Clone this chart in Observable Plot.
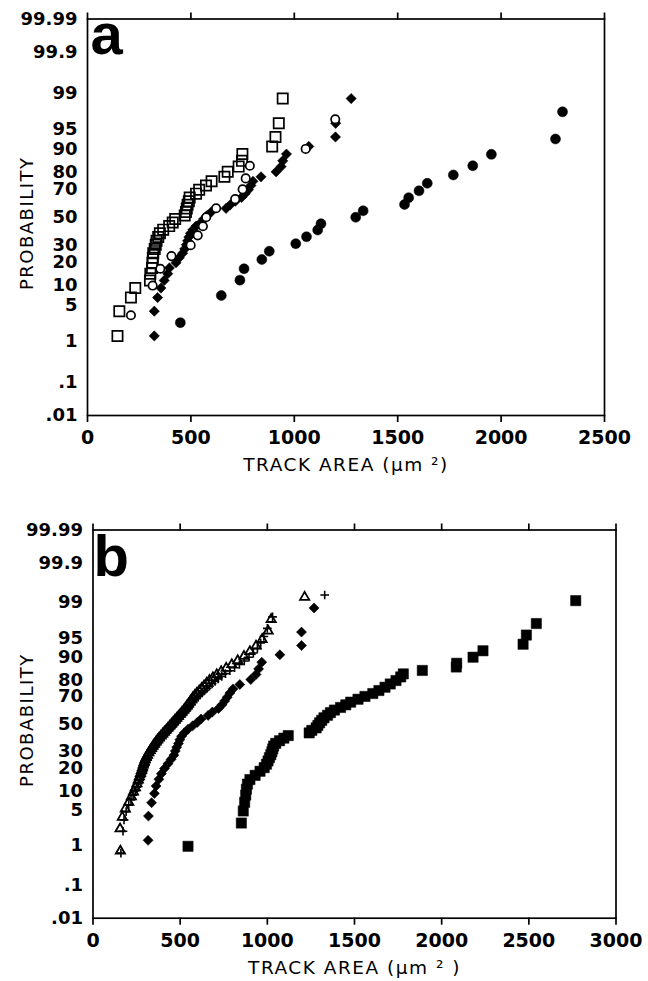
<!DOCTYPE html>
<html>
<head>
<meta charset="utf-8">
<script src="https://cdn.jsdelivr.net/npm/d3@7"></script>
<script src="https://cdn.jsdelivr.net/npm/@observablehq/plot@0.6"></script>
<style>
  html, body { margin: 0; padding: 0; background: #fff; }
  #wrap { width: 648px; height: 981px; overflow: hidden; }
  #wrap svg { display: block; }
</style>
</head>
<body>
<div id="wrap"></div>
<script>
// ---------- tick labels ----------
const yTickValues = [0.01, 0.1, 1, 5, 10, 20, 30, 50, 70, 80, 90, 95, 99, 99.9, 99.99];
const yTickLabels = [".01", ".1", "1", "5", "10", "20", "30", "50", "70", "80", "90", "95", "99", "99.9", "99.99"];
const xTicksA = [0, 500, 1000, 1500, 2000, 2500];
const xTicksB = [0, 500, 1000, 1500, 2000, 2500, 3000];

// ---------- panel a ----------
// open squares
const aSquareX = [145,154,210,231,302,304,312,314,316,318,325,330,334,342,350,366,395,412,424,470,476,480,484,490,494,525,540,573,600,662,678,731,747,749,893,909,925,944];
const aSquareP = [1.3,3.9,6.6,9.2,11.8,14.5,17.1,19.7,22.4,25,27.6,30.3,32.9,35.5,38.2,40.8,43.4,46.1,48.7,51.3,53.9,56.6,59.2,61.8,64.5,67.1,69.7,72.4,75,77.6,80.3,82.9,85.5,88.2,90.8,93.4,96.1,98.7];
// open circles
const aCircleX = [210,315,352,406,499,533,558,574,622,714,750,765,785,1055,1198];
const aCircleP = [3.3,10,16.7,23.3,30,36.7,43.3,50,56.7,63.3,70,76.7,83.3,90,96.7];
// filled diamonds
const aDiamondX = [323,323,339,355,371,388,396,428,444,460,470,478,484,490,498,510,525,549,562,578,598,670,690,715,745,762,778,790,800,839,912,936,944,962,1070,1199,1200,1275];
const aDiamondP = [1.3,3.9,6.6,9.2,11.8,14.5,17.1,19.7,22.4,25,27.6,30.3,32.9,35.5,38.2,40.8,43.4,46.1,48.7,51.3,53.9,56.6,59.2,61.8,64.5,67.1,69.7,72.4,75,77.6,80.3,82.9,85.5,88.2,90.8,93.4,96.1,98.7];
// filled circles
const aDotX = [449,647,737,757,843,879,1007,1059,1113,1129,1297,1333,1533,1553,1603,1643,1769,1863,1953,2263,2297];
const aDotP = [2.4,7.1,11.9,16.7,21.4,26.2,31,35.7,40.5,45.2,50,54.8,59.5,64.3,69,73.8,78.6,83.3,88.1,92.9,97.6];

// ---------- panel b ----------
// open triangles
const bTriX = [157,155,168,185,205,220,232,243,252,260,266,272,278,283,288,293,298,305,312,320,328,336,344,352,361,370,380,390,400,410,420,430,440,450,460,470,480,490,500,510,520,529,538,547,556,564,573,584,596,609,623,637,652,668,688,710,735,764,796,830,866,900,935,970,1005,1022,1214];
const bTriP = [0.75,2.24,3.73,5.22,6.72,8.21,9.7,11.19,12.69,14.18,15.67,17.16,18.66,20.15,21.64,23.13,24.63,26.12,27.61,29.1,30.6,32.09,33.58,35.07,36.57,38.06,39.55,41.04,42.54,44.03,45.52,47.01,48.51,50,51.49,52.99,54.48,55.97,57.46,58.96,60.45,61.94,63.43,64.93,66.42,67.91,69.4,70.9,72.39,73.88,75.37,76.87,78.36,79.85,81.34,82.84,84.33,85.82,87.31,88.81,90.3,91.79,93.28,94.78,96.27,97.76,99.25];
// plus signs
const bPlusX = [160,172,178,190,205,218,230,242,252,260,268,275,281,287,292,297,302,307,313,319,325,332,339,346,354,362,370,379,388,397,406,415,424,433,442,451,460,469,478,487,496,505,514,522,531,540,548,556,565,574,583,593,604,615,627,640,654,668,683,700,718,738,760,785,812,840,868,895,920,943,962,980,1000,1030,1329];
const bPlusP = [0.67,2,3.33,4.67,6,7.33,8.67,10,11.33,12.67,14,15.33,16.67,18,19.33,20.67,22,23.33,24.67,26,27.33,28.67,30,31.33,32.67,34,35.33,36.67,38,39.33,40.67,42,43.33,44.67,46,47.33,48.67,50,51.33,52.67,54,55.33,56.67,58,59.33,60.67,62,63.33,64.67,66,67.33,68.67,70,71.33,72.67,74,75.33,76.67,78,79.33,80.67,82,83.33,84.67,86,87.33,88.67,90,91.33,92.67,94,95.33,96.67,98,99.33];
// filled diamonds
const bDiamondX = [316,318,336,352,362,378,392,410,430,448,464,472,480,490,498,508,524,545,572,598,620,660,685,720,740,755,770,785,803,842,905,935,950,968,1072,1196,1196,1268];
const bDiamondP = [1.3,3.9,6.6,9.2,11.8,14.5,17.1,19.7,22.4,25,27.6,30.3,32.9,35.5,38.2,40.8,43.4,46.1,48.7,51.3,53.9,56.6,59.2,61.8,64.5,67.1,69.7,72.4,75,77.6,80.3,82.9,85.5,88.2,90.8,93.4,96.1,98.7];
// filled squares
const bSquareX = [545,851,862,870,876,880,886,900,930,958,982,995,1004,1012,1020,1026,1031,1036,1048,1070,1095,1120,1240,1255,1280,1290,1300,1312,1325,1345,1362,1385,1420,1450,1478,1520,1560,1605,1640,1675,1705,1738,1765,1780,1889,2084,2086,2180,2237,2467,2486,2543,2769];
const bSquareP = [0.96,2.9,4.8,6.7,8.7,10.6,12.5,14.4,16.3,18.3,20.2,22.1,24,26,27.9,29.8,31.7,33.7,35.6,37.5,39.4,41.3,43.3,45.2,47.1,49,51,52.9,54.8,56.7,58.7,60.6,62.5,64.4,66.3,68.3,70.2,72.1,74,76,77.9,79.8,81.7,83.2,84.8,86.3,87.8,90,92,93.7,95.6,97.3,99.1];

// ---------- normal probability (probit) transform ----------
function probit(p) {
  const a = [-3.969683028665376e+01, 2.209460984245205e+02, -2.759285104469687e+02, 1.383577518672690e+02, -3.066479806614716e+01, 2.506628277459239e+00];
  const b = [-5.447609879822406e+01, 1.615858368580409e+02, -1.556989798598866e+02, 6.680131188771972e+01, -1.328068155288572e+01];
  const c = [-7.784894002430293e-03, -3.223964580411365e-01, -2.400758277161838e+00, -2.549732539343734e+00, 4.374664141464968e+00, 2.938163982698783e+00];
  const d = [7.784695709041462e-03, 3.224671290700398e-01, 2.445134137142996e+00, 3.754408661907416e+00];
  const pl = 0.02425, ph = 1 - pl;
  let q, r;
  if (p < pl) {
    q = Math.sqrt(-2 * Math.log(p));
    return (((((c[0]*q+c[1])*q+c[2])*q+c[3])*q+c[4])*q+c[5]) / ((((d[0]*q+d[1])*q+d[2])*q+d[3])*q+1);
  }
  if (p <= ph) {
    q = p - 0.5; r = q * q;
    return (((((a[0]*r+a[1])*r+a[2])*r+a[3])*r+a[4])*r+a[5])*q / (((((b[0]*r+b[1])*r+b[2])*r+b[3])*r+b[4])*r+1);
  }
  q = Math.sqrt(-2 * Math.log(1 - p));
  return -(((((c[0]*q+c[1])*q+c[2])*q+c[3])*q+c[4])*q+c[5]) / ((((d[0]*q+d[1])*q+d[2])*q+d[3])*q+1);
}

const series = (xs, ps) => xs.map((x, i) => ({x, z: probit(ps[i] / 100)}));
const yTickZ = yTickValues.map(v => probit(v / 100));
const yLabelMap = new Map(yTickZ.map((z, i) => [z, yTickLabels[i]]));

function panel(o) {
  const svg = Plot.plot({
    width: 648,
    height: o.height,
    marginTop: o.mt, marginBottom: o.mb, marginLeft: o.ml, marginRight: o.mr,
    style: {fontFamily: "'DejaVu Sans', sans-serif", fontSize: "19px", color: "black", background: "white", overflow: "visible"},
    x: {domain: [0, o.xmax]},
    y: {domain: [probit(0.0001), probit(0.9999)]},
    marks: [
      ...o.layers,
      Plot.frame({stroke: "black", strokeWidth: 1.7}),
      Plot.axisX(o.xticks, {anchor: "bottom", tickSize: 7, tickPadding: 8, label: null, strokeWidth: 1.7, fontSize: 19, fontWeight: "bold", tickFormat: d => String(d)}),
      Plot.axisX(o.xticks, {anchor: "top", tickSize: 7, tickFormat: () => "", label: null, strokeWidth: 1.7}),
      Plot.axisY(yTickZ, {anchor: "left", tickSize: 0, tickPadding: 10, tickFormat: d => yLabelMap.get(d), label: null, fontWeight: "bold", fontSize: 18}),
      Plot.text([o.letter], {text: d => d, frameAnchor: "top-left", textAnchor: "start", lineAnchor: "top", dx: o.letterDx, dy: o.letterDy, fontSize: 58, fontWeight: "bold", fontFamily: "'Liberation Sans', Arial, sans-serif"}),
      Plot.text(["PROBABILITY"], {text: d => d, frameAnchor: "left", textAnchor: "middle", lineAnchor: "middle", rotate: -90, dx: o.yTitleDx, dy: o.yTitleDy, fontSize: 18}),
      Plot.text([o.xTitle], {text: d => d, frameAnchor: "bottom", textAnchor: "middle", lineAnchor: "middle", dy: 50, fontSize: 18.5})
    ]
  });
  d3.select(svg).selectAll("text").each(function () {
    const t = this.textContent;
    if (t === "PROBABILITY" || t.startsWith("TRACK")) this.setAttribute("letter-spacing", "1.5");
  });
  return svg;
}

const svgA = panel({
  height: 490, mt: 18.5, mb: 75, ml: 87, mr: 44,
  xmax: 2500, xticks: xTicksA,
  letter: "a", letterDx: 3, letterDy: -6.5,
  yTitleDx: -60, yTitleDy: 6,
  xTitle: "TRACK AREA (μm ²)",
  layers: [
    Plot.dot(series(aSquareX, aSquareP), {x: "x", y: "z", symbol: "square", r: 5.8, fill: "none", stroke: "black", strokeWidth: 1.7}),
    Plot.dot(series(aDotX, aDotP), {x: "x", y: "z", symbol: "circle", r: 5, fill: "black", stroke: "black", strokeWidth: 0.5}),
    Plot.dot(series(aDiamondX, aDiamondP), {x: "x", y: "z", symbol: "diamond2", r: 4.6, fill: "black", stroke: "black", strokeWidth: 0.6}),
    Plot.dot(series(aCircleX, aCircleP), {x: "x", y: "z", symbol: "circle", r: 4.2, fill: "white", stroke: "black", strokeWidth: 1.7})
  ]
});

const svgB = panel({
  height: 491, mt: 39.5, mb: 63.3, ml: 92.5, mr: 32.5,
  xmax: 3000, xticks: xTicksB,
  letter: "b", letterDx: 0.5, letterDy: 4.5,
  yTitleDx: -65.5, yTitleDy: -4,
  xTitle: "TRACK AREA (μm ² )",
  layers: [
    Plot.dot(series(bSquareX, bSquareP), {x: "x", y: "z", symbol: "square", r: 5.8, fill: "black", stroke: "black", strokeWidth: 0.5}),
    Plot.dot(series(bDiamondX, bDiamondP), {x: "x", y: "z", symbol: "diamond2", r: 4.5, fill: "black", stroke: "black", strokeWidth: 0.6}),
    Plot.dot(series(bTriX, bTriP), {x: "x", y: "z", symbol: "triangle", r: 3.4, fill: "none", stroke: "black", strokeWidth: 1.8}),
    Plot.dot(series(bPlusX, bPlusP), {x: "x", y: "z", symbol: "plus", r: 2.9, fill: "none", stroke: "black", strokeWidth: 1.6})
  ]
});

const wrap = document.getElementById("wrap");
wrap.appendChild(svgA);
wrap.appendChild(svgB);
</script>
</body>
</html>
